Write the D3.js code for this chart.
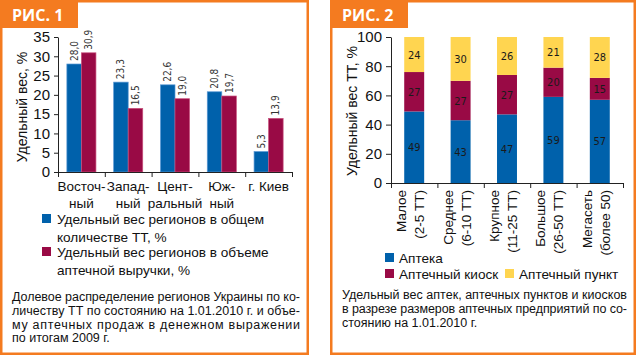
<!DOCTYPE html>
<html><head><meta charset="utf-8">
<script src="https://cdn.jsdelivr.net/npm/d3@7"></script>
<style>
body{margin:0;background:#fff;}
svg{display:block;font-family:"Liberation Sans",Arial,sans-serif;}
</style></head>
<body>
<svg id="c" width="640" height="356"></svg>
<script>
// ---- Data: Fig. 1 ----
const regionLabels = [["Восточ-","ный"],["Запад-","ный"],["Цент-","ральный"],["Юж-","ный"],["г. Киев"]];
const countShare = [28.0, 23.3, 22.6, 20.8, 5.3];
const revenueShare = [30.9, 16.5, 19.0, 19.7, 13.9];
const yTicks1 = [0,5,10,15,20,25,30,35];
const legend1 = [["Удельный вес регионов в общем","количестве ТТ, %"],["Удельный вес регионов в объеме","аптечной выручки, %"]];
const caption1 = ["Долевое распределение регионов Украины по ко-","личеству ТТ по состоянию на 1.01.2010 г. и объе-","му аптечных продаж в денежном выражении","по итогам 2009 г."];
// ---- Data: Fig. 2 ----
const sizeLabels = [["Малое","(2-5 ТТ)"],["Среднее","(6-10 ТТ)"],["Крупное","(11-25 ТТ)"],["Большое","(26-50 ТТ)"],["Мегасеть","(более 50)"]];
const apteka = [49, 43, 47, 59, 57];
const kiosk = [27, 27, 27, 20, 15];
const punkt = [24, 30, 26, 21, 28];
const seriesNames2 = ["Аптека","Аптечный киоск","Аптечный пункт"];
const yTicks2 = [0,20,40,60,80,100];
const caption2 = ["Удельный вес аптек, аптечных пунктов и киосков","в разрезе размеров аптечных предприятий по со-","стоянию на 1.01.2010 г."];

const ORANGE = "#f47b20", BLUE = "#0061ab", RED = "#990a45", YEL = "#ffd550";
const svg = d3.select("#c");

function frame(x0, x1, title){
  svg.append("rect").attr("x", x0+1.25).attr("y", 1.25).attr("width", x1-x0-2.5).attr("height", 352.5)
    .attr("fill","#fff").attr("stroke", ORANGE).attr("stroke-width", 2.5);
  svg.append("rect").attr("x", x0).attr("y", 0).attr("width", 78).attr("height", 28).attr("fill", ORANGE);
  svg.append("text").attr("x", x0+12).attr("y", 21).attr("fill","#fff").attr("font-weight","bold")
    .attr("font-size", 16).attr("font-family","'Open Sans',sans-serif").text(title);
}
frame(0, 309, "РИС. 1");
frame(330, 636, "РИС. 2");

// ===== Figure 1 =====
{
  const g = svg.append("g");
  const y = d3.scaleLinear().domain([0,35]).range([172, 37]);
  const x0 = d3.scaleBand().domain(d3.range(regionLabels.length)).range([58, 292]);
  const x1 = d3.scaleBand().domain([0,1]).range([0, x0.bandwidth()]).paddingOuter(0.61);
  const series = [countShare, revenueShare];
  const cols = [BLUE, RED], strokes = ["#5b98d4", "#c8507c"];
  series.forEach((vals, si) => {
    g.selectAll(null).data(vals).join("rect")
      .attr("x", (d,i) => x0(i) + x1(si)).attr("width", x1.bandwidth())
      .attr("y", d => y(d)).attr("height", d => y(0) - y(d))
      .attr("fill", cols[si]).attr("stroke", strokes[si]).attr("stroke-width", 0.7);
    g.selectAll(null).data(vals).join("text")
      .attr("transform", (d,i) => `translate(${x0(i)+x1(si)+x1.bandwidth()/2+3.5},${y(d)-3}) rotate(-90)`)
      .attr("font-size", 10).attr("fill", "#333")
      .attr("font-family","'Liberation Sans Narrow','DejaVu Sans Condensed',sans-serif")
      .text(d => d3.format(".1f")(d).replace(".", ","));
  });
  const ya = g.append("g").attr("transform","translate(58,0)")
    .call(d3.axisLeft(y).tickValues(yTicks1).tickSize(4).tickSizeOuter(0).tickPadding(4));
  ya.selectAll("text").attr("font-size", 15).attr("fill","#111").attr("font-family","'Liberation Sans',Arial,sans-serif");
  ya.select(".domain").attr("stroke","#222");
  ya.selectAll(".tick line").attr("stroke","#222");
  const xb = d3.scaleLinear().domain([0, regionLabels.length]).range([58, 292]);
  const xa = g.append("g").attr("transform","translate(0,172)")
    .call(d3.axisBottom(xb).tickValues(d3.range(regionLabels.length+1)).tickSize(5).tickSizeOuter(0).tickFormat(""));
  xa.select(".domain").attr("stroke","#222");
  xa.selectAll(".tick line").attr("stroke","#222");
  regionLabels.forEach((lines, i) => {
    lines.forEach((t, k) => {
      g.append("text").attr("x", x0(i) + x0.bandwidth()/2).attr("y", 191 + k*17)
        .attr("text-anchor","middle").attr("font-size", 13.5).attr("fill","#111").text(t);
    });
  });
  g.append("text").attr("transform","translate(27,107) rotate(-90)").attr("text-anchor","middle")
    .attr("font-size", 14).attr("fill","#111").text("Удельный вес, %");
  legend1.forEach((lines, i) => {
    const ly = 214 + i*33;
    g.append("rect").attr("x", 42).attr("y", ly).attr("width", 9).attr("height", 9).attr("fill", cols[i]);
    lines.forEach((t,k) => g.append("text").attr("x", 57).attr("y", ly + 10 + k*18)
      .attr("font-size", 13.6).attr("fill","#111").text(t));
  });
  caption1.forEach((t, k) => {
    const tx = g.append("text").attr("x", 12).attr("y", 301 + k*13.8).attr("font-size", 12.5).attr("fill","#111").text(t);
    if (k < caption1.length - 1) tx.attr("textLength", 288).attr("lengthAdjust","spacing");
  });
}

// ===== Figure 2 =====
{
  const g = svg.append("g");
  const y = d3.scaleLinear().domain([0,100]).range([183, 37]);
  const x = d3.scaleBand().domain(d3.range(sizeLabels.length)).range([391, 623]).paddingInner(0.57).paddingOuter(0.285);
  const stackData = sizeLabels.map((s,i) => ({i, a: apteka[i], k: kiosk[i], p: punkt[i]}));
  const stack = d3.stack().keys(["a","k","p"])(stackData);
  const cols = [BLUE, RED, YEL];
  stack.forEach((layer, li) => {
    g.selectAll(null).data(layer).join("rect")
      .attr("x", d => x(d.data.i)).attr("width", x.bandwidth())
      .attr("y", d => y(d[1])).attr("height", d => y(d[0]) - y(d[1]))
      .attr("fill", cols[li]);
    g.selectAll(null).data(layer).join("text")
      .attr("x", d => x(d.data.i) + x.bandwidth()/2).attr("y", d => y((d[0]+d[1])/2) + 4)
      .attr("text-anchor","middle").attr("font-size", 11).attr("fill","#1a1a1a")
      .attr("font-family","'Liberation Sans Narrow','DejaVu Sans Condensed',sans-serif")
      .text(d => d[1]-d[0]);
  });
  const ya = g.append("g").attr("transform","translate(391,0)")
    .call(d3.axisLeft(y).tickValues(yTicks2).tickSize(5).tickSizeOuter(0).tickPadding(4));
  ya.selectAll("text").attr("font-size", 15).attr("fill","#111").attr("font-family","'Liberation Sans',Arial,sans-serif");
  ya.select(".domain").attr("stroke","#222");
  ya.selectAll(".tick line").attr("stroke","#222");
  const xb = d3.scaleLinear().domain([0, sizeLabels.length]).range([391, 623]);
  const xa = g.append("g").attr("transform","translate(0,183)")
    .call(d3.axisBottom(xb).tickValues(d3.range(sizeLabels.length+1)).tickSize(5).tickSizeOuter(0).tickFormat(""));
  xa.select(".domain").attr("stroke","#222");
  xa.selectAll(".tick line").attr("stroke","#222");
  sizeLabels.forEach((lines, i) => {
    const cx = x(i) + x.bandwidth()/2;
    lines.forEach((t,k) => g.append("text")
      .attr("transform", `translate(${cx - 8 + k*18},190) rotate(-90)`)
      .attr("text-anchor","end").attr("font-size", 13.5).attr("fill","#111").text(t));
  });
  g.append("text").attr("transform","translate(357,111) rotate(-90)").attr("text-anchor","middle")
    .attr("font-size", 14).attr("fill","#111").text("Удельный вес ТТ, %");
  const legPos = [[385, 253], [385, 269], [505, 269]];
  seriesNames2.forEach((n, i) => {
    g.append("rect").attr("x", legPos[i][0]).attr("y", legPos[i][1]).attr("width", 9).attr("height", 9).attr("fill", cols[i]);
    g.append("text").attr("x", legPos[i][0] + 14).attr("y", legPos[i][1] + 10).attr("font-size", 13.6).attr("fill","#111").text(n);
  });
  caption2.forEach((t, k) => {
    const tx = g.append("text").attr("x", 342).attr("y", 299 + k*14).attr("font-size", 12.5).attr("fill","#111").text(t);
    if (k < caption2.length - 1) tx.attr("textLength", 285).attr("lengthAdjust","spacing");
  });
}
</script>
</body></html>
